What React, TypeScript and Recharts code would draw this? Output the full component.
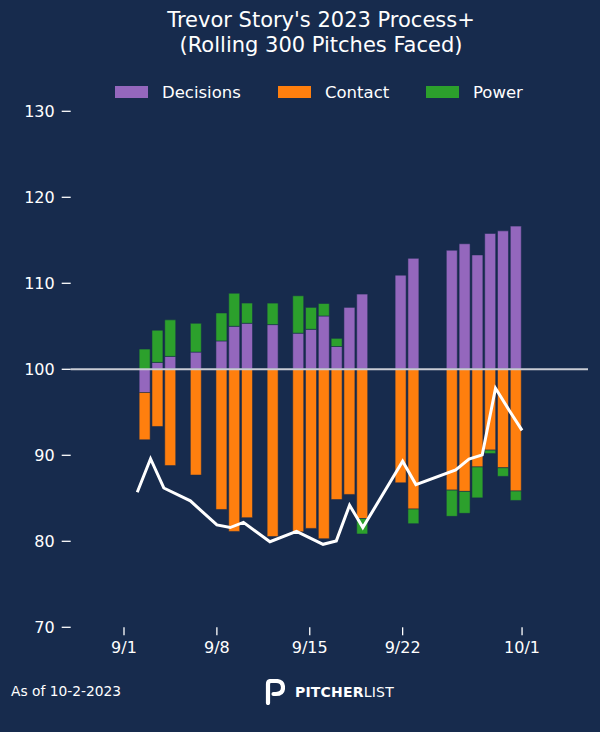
import { ComposedChart, Bar, Line, XAxis, YAxis, ReferenceLine } from "recharts";

const BG = "#172b4d";
const FONT = "'DejaVu Sans', sans-serif";

// days counted from 9/1
const days = [1, 2, 3, 5, 7, 8, 9, 11, 13, 14, 15, 16, 17, 18, 21, 22, 25, 26, 27, 28, 29, 30];

// component deviations from 100
const decisions = [
  -2.7, 0.8, 1.5, 2.0, 3.3, 5.0, 5.35, 5.2, 4.2, 4.65, 6.2, 2.65, 7.2, 8.75, 10.95, 12.9,
  13.85, 14.6, 13.3, 15.8, 16.1, 16.65,
];
const contact = [
  -5.5, -6.65, -11.2, -12.3, -16.3, -18.85, -17.25, -19.45, -18.9, -18.5, -19.7, -15.15,
  -14.55, -17.35, -13.2, -16.25, -14.05, -14.2, -11.35, -9.4, -11.45, -14.15,
];
const power = [
  2.35, 3.75, 4.25, 3.35, 3.25, 3.85, 2.35, 2.5, 4.35, 2.55, 1.45, 0.95, 0, -1.8, 0, -1.7,
  -3.05, -2.55, -3.6, -0.4, -1.0, -1.1,
];

// rolling Process+
const processPlus = [
  85.7, 89.6, 86.2, 84.7, 81.9, 81.6, 82.2, 79.95, 81.15, 80.4, 79.65, 80.05, 84.2, 81.6,
  89.3, 86.6, 88.3, 89.55, 90.05, 97.8, 95.3, 92.9,
];

const tickDays = [0, 7, 14, 21, 30];
const tickLabels = ["9/1", "9/8", "9/15", "9/22", "10/1"];
const yTicks = [-30, -20, -10, 0, 10, 20, 30];

const legendItems = [
  { name: "Decisions", color: "#9467bd", x: 115 },
  { name: "Contact", color: "#ff7f0e", x: 278 },
  { name: "Power", color: "#2ca02c", x: 426 },
];

const rows = days.map((d, i) => ({
  day: d,
  decisions: decisions[i],
  contact: contact[i],
  power: power[i],
  process: processPlus[i],
}));

function PLogo() {
  return (
    <svg width={20} height={26} viewBox="0 0 20 26">
      <path
        d="M3 24 L3 5 Q3 2 6 2 L11 2 Q18 2 18 8.5 Q18 15 11 15 L8.5 15"
        fill="none"
        stroke="#ffffff"
        strokeWidth={4.2}
        strokeLinecap="round"
      />
    </svg>
  );
}

export default function App() {
  const barEdge = "rgba(23,43,77,0.55)";
  return (
    <div
      style={{
        position: "absolute",
        left: 0,
        top: 0,
        width: 600,
        height: 732,
        background: BG,
        fontFamily: FONT,
        color: "#fff",
        overflow: "hidden",
      }}
    >
      <div
        style={{
          position: "absolute",
          top: 8,
          left: 21,
          width: 600,
          textAlign: "center",
          fontSize: 21,
          lineHeight: "25px",
        }}
      >
        <div>Trevor Story's 2023 Process+</div>
        <div>(Rolling 300 Pitches Faced)</div>
      </div>

      {legendItems.map((it) => (
        <div key={it.name} style={{ position: "absolute", left: it.x, top: 80, height: 24, display: "flex", alignItems: "center" }}>
          <div style={{ width: 33, height: 12, background: it.color }} />
          <span style={{ marginLeft: 14, fontSize: 16.5 }}>{it.name}</span>
        </div>
      ))}

      <div style={{ position: "absolute" }}>
        <ComposedChart
          width={600}
          height={732}
          data={rows}
          stackOffset="sign"
          margin={{ top: 111.3, right: 12, bottom: 74.7, left: 10.7 }}
        >
          <XAxis
            xAxisId="bars"
            type="number"
            dataKey="day"
            domain={[-4.77, 35.65]}
            hide
            height={0}
            allowDataOverflow
          />
          <XAxis
            xAxisId="line"
            type="number"
            dataKey="day"
            domain={[-4.017, 34.97]}
            ticks={tickDays}
            tickFormatter={(v) => tickLabels[tickDays.indexOf(v)] ?? ""}
            axisLine={false}
            tickLine={{ stroke: "#ffffff", strokeWidth: 1.3 }}
            tickSize={8}
            tickMargin={6}
            height={30}
            allowDataOverflow
            tick={{ fill: "#ffffff", fontSize: 16, fontFamily: FONT }}
          />
          <YAxis
            yAxisId="dev"
            type="number"
            domain={[-30, 30]}
            ticks={yTicks}
            tickFormatter={(v) => String(v + 100)}
            axisLine={false}
            tickLine={{ stroke: "#ffffff", strokeWidth: 1.3 }}
            tickSize={9}
            tickMargin={7}
            width={60}
            allowDataOverflow
            tick={{ fill: "#ffffff", fontSize: 16, fontFamily: FONT }}
          />
          <YAxis yAxisId="score" type="number" domain={[70, 130]} hide width={0} allowDataOverflow />
          <Bar
            xAxisId="bars"
            yAxisId="dev"
            dataKey="decisions"
            stackId="s"
            fill="#9467bd"
            stroke={barEdge}
            strokeWidth={1}
            barSize={11}
            isAnimationActive={false}
          />
          <Bar
            xAxisId="bars"
            yAxisId="dev"
            dataKey="contact"
            stackId="s"
            fill="#ff7f0e"
            stroke={barEdge}
            strokeWidth={1}
            barSize={11}
            isAnimationActive={false}
          />
          <Bar
            xAxisId="bars"
            yAxisId="dev"
            dataKey="power"
            stackId="s"
            fill="#2ca02c"
            stroke={barEdge}
            strokeWidth={1}
            barSize={11}
            isAnimationActive={false}
          />
          <ReferenceLine xAxisId="bars" yAxisId="dev" y={0} stroke="#c9ccd4" strokeWidth={2} />
          <Line
            xAxisId="line"
            yAxisId="score"
            dataKey="process"
            type="linear"
            stroke="#ffffff"
            strokeWidth={3}
            dot={false}
            activeDot={false}
            isAnimationActive={false}
          />
        </ComposedChart>
      </div>

      <div style={{ position: "absolute", left: 11, top: 682, fontSize: 13.8, lineHeight: "18px" }}>
        As of 10-2-2023
      </div>
      <div style={{ position: "absolute", left: 265, top: 679, display: "flex", alignItems: "center" }}>
        <PLogo />
        <span style={{ marginLeft: 10, fontSize: 14, letterSpacing: 0.2 }}>
          <span style={{ fontWeight: 700 }}>PITCHER</span>
          <span style={{ fontWeight: 400 }}>LIST</span>
        </span>
      </div>
    </div>
  );
}
